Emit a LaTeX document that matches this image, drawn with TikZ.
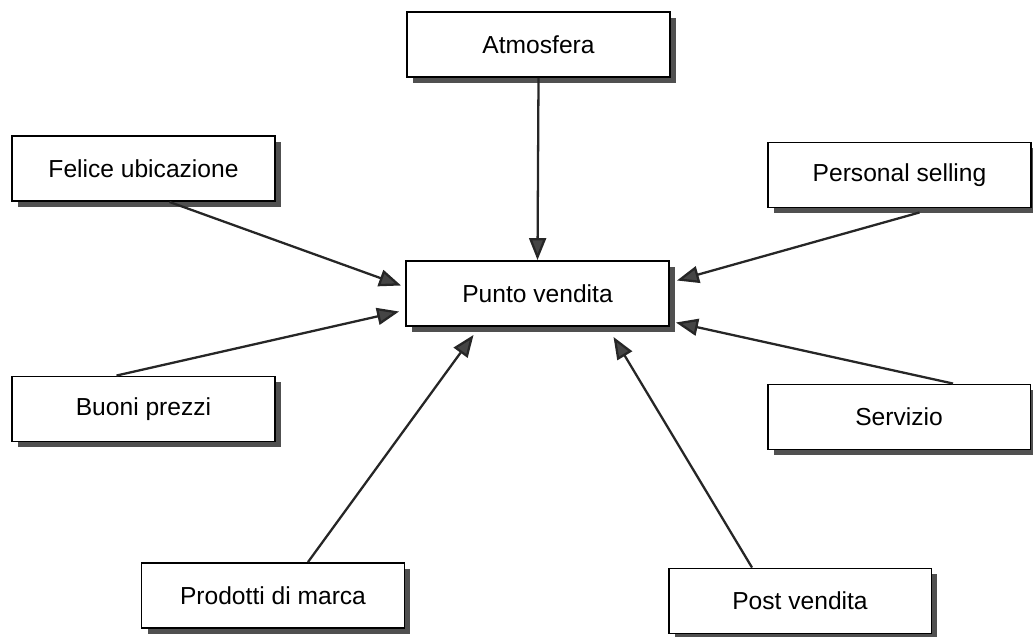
\documentclass[tikz,border=0pt]{standalone}
\usepackage{fontspec}
\setmainfont{Liberation Sans}
\usepackage{tikz}
\usetikzlibrary{arrows.meta,calc,shadows}

\definecolor{shadowgray}{HTML}{505050}
\definecolor{tipgray}{HTML}{454545}

\begin{document}
\begin{tikzpicture}[x=0.02cm, y=-0.02cm,
	box/.style={rectangle, draw=black, line width=1.1pt, fill=white, minimum width=5.26cm, minimum height=1.3cm, inner sep=0pt, font=\fontsize{14}{16}\selectfont, drop shadow={shadow xshift=3.4pt, shadow yshift=-3.4pt, fill=shadowgray, opacity=1}},
	every edge/.style={draw=black!85, line width=1.3pt, -{Triangle[length=0.44cm, width=0.34cm, fill=tipgray]}}]
			\useasboundingbox (0,0) rectangle (1033,636);
			\node[box] (atm) at (538.5,44.5){Atmosfera};
			\node[box] (punto) at (537.5,293.5){Punto vendita};
			\node[box] (felice) at (143.5,168.5){Felice ubicazione};
			\node[box] (buoni) at (143.5,409){Buoni prezzi};
			\node[box] (prodotti) at (273,595.5){Prodotti di marca};
			\node[box] (post) at (800,601){Post vendita};
			\node[box] (servizio) at (899,417){Servizio};
			\node[box] (personal) at (899.5,175){Personal selling};
			
			\path (atm.south) edge (punto.north);
			\path ($(felice.south)+(26,0)$) edge ($(punto.west)+(-4,-8)$);
			\path ($(buoni.north)+(-27,0)$) edge ($(punto.west)+(-6,18)$);
			\path ($(prodotti.north)+(35,0)$) edge ($(punto.south)+(-64,8)$);
			\path ($(post.north)+(-48,0)$) edge ($(punto.south)+(76,10)$);
			\path ($(servizio.north)+(54,0)$) edge ($(punto.east)+(6,29)$);
			\path ($(personal.south)+(20,4)$) edge ($(punto.east)+(7,-13)$);
			\end{tikzpicture}
\end{document}
